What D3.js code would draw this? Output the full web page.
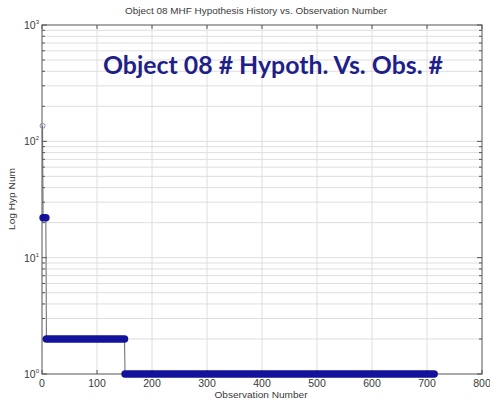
<html>
<body style="margin:0;background:#fff">
<svg width="490" height="404" style="background:#fff"></svg>

<script src="https://cdn.jsdelivr.net/npm/d3@7"></script>
<script type="text/javascript">
let svg = d3.select("svg");

// runs of constant hypothesis count
const runStart = [1, 2, 8, 151];
const runEnd = [1, 7, 150, 713];
const hypNum = [136, 22, 2, 1];

const xTicks = [0, 100, 200, 300, 400, 500, 600, 700, 800];
const yDecades = [0, 1, 2, 3];

const title = "Object 08 MHF Hypothesis History vs. Observation Number";
const overlay = "Object 08 # Hypoth. Vs. Obs. #";

const plot_left = 42, plot_right = 482, plot_top = 25, plot_bottom = 374;

let x = d3.scaleLinear().domain([0, 800]).range([plot_left, plot_right]);
let y = d3.scaleLog().domain([1, 1000]).range([plot_bottom, plot_top]);

const grid_color = "#dedede";
const axis_color = "#555";

// minor log values
let minors = [];
yDecades.slice(0, 3).forEach(d => {
  for (let k = 2; k <= 9; k++) minors.push(k * Math.pow(10, d));
});

let grid_g = svg.append("g");
grid_g.selectAll(".hg").data(minors.concat([10, 100])).join("line")
  .attr("x1", plot_left).attr("x2", plot_right)
  .attr("y1", d => y(d)).attr("y2", d => y(d))
  .attr("stroke", grid_color).attr("stroke-width", 1);
grid_g.selectAll(".vg").data(xTicks.slice(1, -1)).join("line")
  .attr("x1", d => x(d)).attr("x2", d => x(d))
  .attr("y1", plot_top).attr("y2", plot_bottom)
  .attr("stroke", grid_color).attr("stroke-width", 1);

// box
svg.append("rect").attr("x", plot_left).attr("y", plot_top)
  .attr("width", plot_right - plot_left).attr("height", plot_bottom - plot_top)
  .attr("fill", "none").attr("stroke", axis_color).attr("stroke-width", 1);

// ticks inside
let tick_g = svg.append("g").attr("stroke", axis_color).attr("stroke-width", 1);
xTicks.forEach(t => {
  tick_g.append("line").attr("x1", x(t)).attr("x2", x(t)).attr("y1", plot_bottom).attr("y2", plot_bottom - 4);
  tick_g.append("line").attr("x1", x(t)).attr("x2", x(t)).attr("y1", plot_top).attr("y2", plot_top + 4);
});
minors.forEach(m => {
  tick_g.append("line").attr("x1", plot_left).attr("x2", plot_left + 3).attr("y1", y(m)).attr("y2", y(m));
  tick_g.append("line").attr("x1", plot_right).attr("x2", plot_right - 3).attr("y1", y(m)).attr("y2", y(m));
});
yDecades.forEach(d => {
  let v = Math.pow(10, d);
  tick_g.append("line").attr("x1", plot_left).attr("x2", plot_left + 5).attr("y1", y(v)).attr("y2", y(v));
  tick_g.append("line").attr("x1", plot_right).attr("x2", plot_right - 5).attr("y1", y(v)).attr("y2", y(v));
});

// tick labels
let lab_g = svg.append("g").attr("font-family", "Arial, Liberation Sans, sans-serif").attr("fill", "#3a3a3a");
lab_g.selectAll(".xl").data(xTicks).join("text")
  .attr("x", d => x(d)).attr("y", 387)
  .attr("text-anchor", "middle").attr("font-size", 10.5).text(d => d);
yDecades.forEach(d => {
  let t = lab_g.append("text").attr("x", 24).attr("y", y(Math.pow(10, d)) + 4).attr("font-size", 10.5);
  t.append("tspan").text("10");
  t.append("tspan").attr("dy", -5).attr("font-size", 6).text(d);
});

// axis titles
lab_g.append("text").attr("x", 256).attr("y", 14).attr("text-anchor", "middle")
  .attr("font-size", 9).attr("textLength", 262).attr("lengthAdjust", "spacingAndGlyphs").text(title);
lab_g.append("text").attr("x", 261).attr("y", 398).attr("text-anchor", "middle")
  .attr("font-size", 9.5).attr("textLength", 93).attr("lengthAdjust", "spacingAndGlyphs").text("Observation Number");
lab_g.append("text").attr("transform", "translate(15,199) rotate(-90)").attr("text-anchor", "middle")
  .attr("font-size", 9.5).attr("textLength", 62).attr("lengthAdjust", "spacingAndGlyphs").text("Log Hyp Num");

// connector line through run ends
let stepPts = [];
runStart.forEach((s, i) => {
  stepPts.push([s, hypNum[i]]);
  stepPts.push([runEnd[i], hypNum[i]]);
});
svg.append("path").attr("fill", "none").attr("stroke", "#666").attr("stroke-width", 1)
  .attr("d", d3.line().x(d => x(d[0])).y(d => y(d[1]))(stepPts));

// dense markers -> thick rounded band per run
let data_g = svg.append("g");
runStart.forEach((s, i) => {
  if (runEnd[i] === s) {
    data_g.append("circle").attr("cx", x(s)).attr("cy", y(hypNum[i])).attr("r", 2.5)
      .attr("fill", "none").attr("stroke", "#8a8ab8").attr("stroke-width", 1);
  } else {
    data_g.append("line").attr("x1", x(s)).attr("x2", x(runEnd[i]))
      .attr("y1", y(hypNum[i])).attr("y2", y(hypNum[i]))
      .attr("stroke", "#12129a").attr("stroke-width", 7.5).attr("stroke-linecap", "round");
  }
});

// overlay caption
svg.append("text").attr("x", 103).attr("y", 74)
  .attr("font-family", "Lato, Open Sans, sans-serif").attr("font-weight", "bold")
  .attr("font-size", 25).attr("fill", "#1f1f8a")
  .attr("textLength", 340).attr("lengthAdjust", "spacingAndGlyphs")
  .text(overlay);
</script>
</body>
</html>
